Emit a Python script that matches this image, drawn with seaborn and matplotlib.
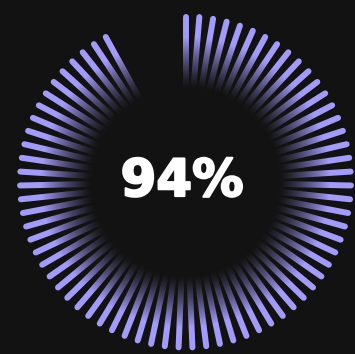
import numpy as np
import matplotlib
matplotlib.use("Agg")
import matplotlib.pyplot as plt
import matplotlib.patheffects as pe
import seaborn as sns

# ---- data ----
percent = 94
n_ticks = 75
label = "94%"

# ---- style ----
sns.set_theme(style="dark")
bg = "#121212"
tick_color = "#A29BFA"

W, H = 355, 354
fig = plt.figure(figsize=(W / 100, H / 100), dpi=100, facecolor=bg)
ax = fig.add_axes([0, 0, 1, 1])
ax.set_facecolor(bg)
ax.set_xlim(0, W)
ax.set_ylim(H, 0)
ax.set_axis_off()

cx, cy = 185.5, 182.0
r_in, r_out = 80.0, 165.5
n_lit = int(round(percent / 100 * n_ticks))
angles = np.deg2rad(np.arange(n_lit) * 360.0 / n_ticks)

lw = 4.3
for a in angles:
    sx, sy = np.sin(a), -np.cos(a)
    ax.plot([cx + r_in * sx, cx + r_out * sx], [cy + r_in * sy, cy + r_out * sy],
            color=tick_color, lw=lw, solid_capstyle="round", zorder=2)

# radial fade overlay (background colour, opaque near centre)
yy, xx = np.mgrid[0:H, 0:W] + 0.5
rr = np.hypot(xx - cx, yy - cy)
f = np.clip((rr - 94) / (145 - 94), 0, 1) ** 1.3
overlay = np.zeros((H, W, 4))
overlay[..., :3] = matplotlib.colors.to_rgb(bg)
overlay[..., 3] = 1 - f
ax.imshow(overlay, extent=(0, W, H, 0), zorder=3, interpolation="bilinear")
ax.set_xlim(0, W)
ax.set_ylim(H, 0)

ax.text(182, 182, label, color="white", fontsize=37, fontweight="bold",
        family="DejaVu Sans", ha="center", va="center", zorder=4,
        path_effects=[pe.withStroke(linewidth=1.6, foreground="white")])

fig.savefig("out.png", dpi=100, facecolor=bg)
